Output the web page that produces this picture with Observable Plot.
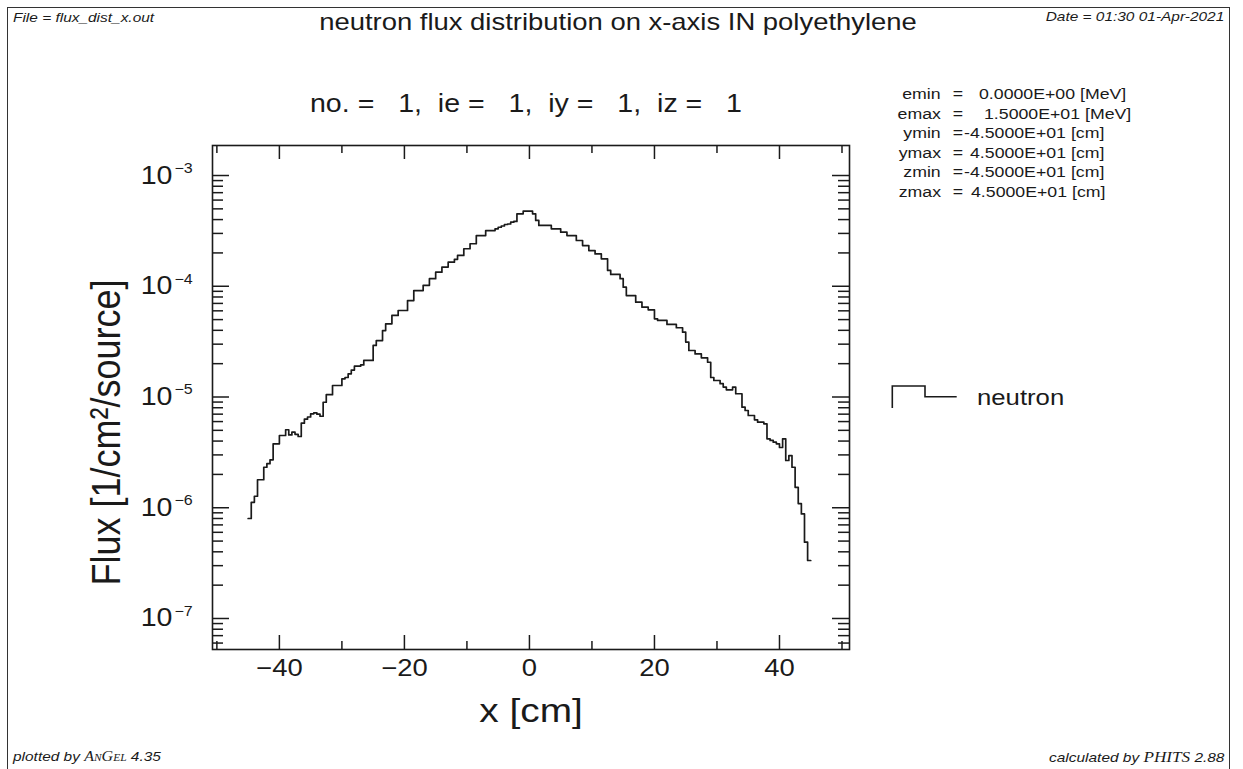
<!DOCTYPE html>
<html><head><meta charset="utf-8">
<script src="https://cdn.jsdelivr.net/npm/d3@7"></script>
<script src="https://cdn.jsdelivr.net/npm/@observablehq/plot@0.6"></script>
<style>
body{margin:0;background:#fff;font-family:"Liberation Sans",Arial,Helvetica,sans-serif;color:#1a1a1a;}
#wrap{position:relative;width:1243px;height:769px;overflow:hidden;background:#fff;}
#wrap svg{position:absolute;left:0;top:0;}
.t{position:absolute;white-space:pre;line-height:1;}
#border{position:absolute;left:7px;top:7px;width:1223px;height:800px;border:1.5px solid #333;box-sizing:border-box;}
</style></head><body><div id="wrap"><div id="border"></div></div>
<script>
// x-mesh bin edges of the tally [cm]
const binEdges = [-45,-44.5,-44,-43.5,-43,-42.5,-42,-41.5,-41,-40.5,-40,-39.5,-39,-38.5,-38,-37.5,-37,-36.5,-36,-35.5,-35,-34.5,-34,-33.5,-33,-32.5,-32,-31.5,-31,-30.5,-30,-29.5,-29,-28.5,-28,-27.5,-27,-26.5,-26,-25.5,-25,-24.5,-24,-23.5,-23,-22.5,-22,-21.5,-21,-20.5,-20,-19.5,-19,-18.5,-18,-17.5,-17,-16.5,-16,-15.5,-15,-14.5,-14,-13.5,-13,-12.5,-12,-11.5,-11,-10.5,-10,-9.5,-9,-8.5,-8,-7.5,-7,-6.5,-6,-5.5,-5,-4.5,-4,-3.5,-3,-2.5,-2,-1.5,-1,-0.5,0,0.5,1,1.5,2,2.5,3,3.5,4,4.5,5,5.5,6,6.5,7,7.5,8,8.5,9,9.5,10,10.5,11,11.5,12,12.5,13,13.5,14,14.5,15,15.5,16,16.5,17,17.5,18,18.5,19,19.5,20,20.5,21,21.5,22,22.5,23,23.5,24,24.5,25,25.5,26,26.5,27,27.5,28,28.5,29,29.5,30,30.5,31,31.5,32,32.5,33,33.5,34,34.5,35,35.5,36,36.5,37,37.5,38,38.5,39,39.5,40,40.5,41,41.5,42,42.5,43,43.5,44,44.5,45];
// neutron flux per bin [1/cm^2/source]
const fluxLeft = [8.0e-7,1.12e-6,1.27e-6,1.79e-6,1.79e-6,2.32e-6,2.5e-6,2.71e-6,3.78e-6,3.78e-6,
  4.49e-6,4.49e-6,5.06e-6,4.55e-6,4.81e-6,4.6e-6,4.4e-6,5.8e-6,6.3e-6,6.6e-6,
  7.05e-6,7.2e-6,7.0e-6,6.7e-6,8.97e-6,1.05e-5,1.05e-5,1.27e-5,1.27e-5,1.27e-5,
  1.46e-5,1.5e-5,1.62e-5,1.75e-5,1.9e-5,1.9e-5,1.95e-5,2.14e-5,2.14e-5,2.14e-5,
  2.92e-5,3.23e-5,3.23e-5,3.98e-5,4.58e-5,4.58e-5,5.45e-5,5.45e-5,6.04e-5,6.04e-5,
  6.04e-5,7.43e-5,7.43e-5,9.15e-5,9.15e-5,9.15e-5,1.02e-4,1.02e-4,1.17e-4,1.17e-4,
  1.34e-4,1.34e-4,1.49e-4,1.49e-4,1.65e-4,1.65e-4,1.75e-4,1.9e-4,1.9e-4,2.18e-4,
  2.18e-4,2.42e-4,2.42e-4,2.87e-4,2.87e-4,2.87e-4,3.18e-4,3.18e-4,3.18e-4,3.3e-4,
  3.41e-4,3.5e-4,3.61e-4,3.65e-4,3.79e-4,3.85e-4,4.51e-4,4.51e-4,4.76e-4,4.76e-4];
const fluxRight = [4.76e-4,4.51e-4,3.93e-4,3.54e-4,3.54e-4,3.54e-4,3.54e-4,3.3e-4,3.3e-4,3.3e-4,
  3.08e-4,3.08e-4,2.87e-4,2.87e-4,2.87e-4,2.59e-4,2.59e-4,2.33e-4,2.33e-4,2.1e-4,
  2.1e-4,1.96e-4,1.96e-4,1.77e-4,1.77e-4,1.39e-4,1.28e-4,1.28e-4,1.28e-4,1.17e-4,
  9.82e-5,8.24e-5,8.24e-5,8.24e-5,7.18e-5,7.18e-5,6.47e-5,6.47e-5,6.12e-5,6.12e-5,
  5.08e-5,4.91e-5,4.91e-5,4.91e-5,4.52e-5,4.52e-5,4.52e-5,4.22e-5,4.22e-5,3.85e-5,
  3.13e-5,2.63e-5,2.63e-5,2.45e-5,2.45e-5,2.26e-5,2.26e-5,2.06e-5,1.5e-5,1.41e-5,
  1.41e-5,1.32e-5,1.23e-5,1.16e-5,1.16e-5,1.23e-5,1.07e-5,1.07e-5,8.09e-6,7.55e-6,
  6.81e-6,6.81e-6,6.22e-6,5.93e-6,5.93e-6,5.73e-6,4.19e-6,4.05e-6,3.91e-6,3.78e-6,
  3.5e-6,4.19e-6,2.67e-6,2.96e-6,2.32e-6,1.53e-6,1.09e-6,8.8e-7,4.89e-7,3.34e-7];
const flux = fluxLeft.concat(fluxRight);

const xMajorTicks = [-40,-20,0,20,40];
const xTickLabels = ["\u221240","\u221220","0","20","40"];
const xMinorTicks = [-50,-30,-10,10,30,50];
const yMajorTicks = [1e-7,1e-6,1e-5,1e-4,1e-3];
const yTickBase = ["10","10","10","10","10"];
const yTickExp = ["\u22127","\u22126","\u22125","\u22124","\u22123"];
const yMinorMult = [2,3,4,5,6,7,8,9];
const yDecades = [1e-8,1e-7,1e-6,1e-5,1e-4,1e-3];

const xDomain = [-50.7, 51.2];
const yDomain = [Math.pow(10,-7.28), Math.pow(10,-2.729)];

const paramLabels = ["emin","emax","ymin","ymax","zmin","zmax"];
const paramValues = ["0.0000E+00 [MeV]","1.5000E+01 [MeV]","-4.5000E+01 [cm]","4.5000E+01 [cm]","-4.5000E+01 [cm]","4.5000E+01 [cm]"];
const paramValueLeft = [979,984,964,970,964,971];

// step path rows built from the edges
const rows = flux.map((v,i)=>({x: binEdges[i], y: v}));
rows.push({x: binEdges[binEdges.length-1], y: flux[flux.length-1]});

const yMinorTicks = [];
for (const d of yDecades) for (const m of yMinorMult) { const v = d*m; if (v > yDomain[0] && v < yDomain[1]) yMinorTicks.push(v); }

const SX = 1.143; // horizontal stretch of the page's lettering
const W = 1243, H = 769, mL = 212, mR = 1243-849, mT = 145, mB = 769-649;
const fw = W - mL - mR, fh = H - mT - mB;
const ink = "#1a1a1a";

const chart = Plot.plot({
  width: W, height: H,
  marginLeft: mL, marginRight: mR, marginTop: mT, marginBottom: mB,
  style: {fontFamily: '"Liberation Sans", Arial, sans-serif', background: "transparent", color: ink},
  x: {type: "linear", domain: xDomain, axis: null},
  y: {type: "log", domain: yDomain, axis: null},
  marks: [
    Plot.tickX(xMajorTicks, {x: d=>d, insetTop: fh-14, stroke: ink, strokeWidth: 1.5}),
    Plot.tickX(xMinorTicks, {x: d=>d, insetTop: fh-8, stroke: ink, strokeWidth: 1.5}),
    Plot.tickX(xMajorTicks, {x: d=>d, insetBottom: fh-14, stroke: ink, strokeWidth: 1.5}),
    Plot.tickX(xMinorTicks, {x: d=>d, insetBottom: fh-8, stroke: ink, strokeWidth: 1.5}),
    Plot.tickY(yMajorTicks, {y: d=>d, insetRight: fw-17, stroke: ink, strokeWidth: 1.5}),
    Plot.tickY(yMinorTicks, {y: d=>d, insetRight: fw-11, stroke: ink, strokeWidth: 1.5}),
    Plot.tickY(yMajorTicks, {y: d=>d, insetLeft: fw-17, stroke: ink, strokeWidth: 1.5}),
    Plot.tickY(yMinorTicks, {y: d=>d, insetLeft: fw-11, stroke: ink, strokeWidth: 1.5}),
    Plot.text(xMajorTicks, {x: d=>d, frameAnchor: "bottom", dy: 26, text: (d,i)=>xTickLabels[i], fontSize: 24, fill: ink}),
    Plot.text(yMajorTicks, {y: d=>d, frameAnchor: "left", dx: -40, textAnchor: "end", text: (d,i)=>yTickBase[i], fontSize: 25, fill: ink}),
    Plot.text(yMajorTicks, {y: d=>d, frameAnchor: "left", dx: -38, dy: -7, textAnchor: "start", text: (d,i)=>yTickExp[i], fontSize: 14, fill: ink}),
    Plot.text(["x [cm]"], {frameAnchor: "bottom", dy: 72, textAnchor: "middle", text: d=>d, fontSize: 34, fill: ink}),
    Plot.text(["Flux [1/cm\u00b2/source]"], {frameAnchor: "left", dx: -106, dy: 35, rotate: -90, textAnchor: "middle", text: d=>d, fontSize: 36, fill: ink}),
    Plot.line(rows, {x: "x", y: "y", curve: "step-after", stroke: ink, strokeWidth: 1.7}),
    Plot.frame({stroke: ink, strokeWidth: 1.6})
  ]
});
// widen the lettering the same way as the page it copies
d3.select(chart).selectAll("text").each(function() {
  const t = this.getAttribute("transform");
  if (!t) return;
  if (t.includes("rotate(")) this.setAttribute("transform", t.replace("rotate(", `scale(${SX},1) rotate(`));
  else this.setAttribute("transform", t + ` scale(${SX},1)`);
});
const wrap = document.getElementById("wrap");
wrap.appendChild(chart);

function place(txt, x, y, anchor, style) {
  const d = document.createElement("div");
  d.className = "t";
  d.innerHTML = txt;
  Object.assign(d.style, style || {});
  d.style.top = y + "px";
  if (anchor === "middle") { d.style.left = x + "px"; d.style.transformOrigin = "50% 50%"; d.style.transform = `translate(-50%,-50%) scaleX(${SX})`; }
  else if (anchor === "end") { d.style.right = (W - x) + "px"; d.style.transformOrigin = "100% 50%"; d.style.transform = `translateY(-50%) scaleX(${SX})`; }
  else { d.style.left = x + "px"; d.style.transformOrigin = "0 50%"; d.style.transform = `translateY(-50%) scaleX(${SX})`; }
  wrap.appendChild(d);
  return d;
}
place("File = flux_dist_x.out", 13, 18, "start", {fontSize: "13.5px", fontStyle: "italic"});
place("Date = 01:30 01-Apr-2021", 1224, 17, "end", {fontSize: "13.5px", fontStyle: "italic"});
place("neutron flux distribution on x-axis IN polyethylene", 618, 22, "middle", {fontSize: "24px"});
place("no. =   1,  ie =   1,  iy =   1,  iz =   1", 526, 103, "middle", {fontSize: "25px"});
paramLabels.forEach((lab, i) => {
  const y = 94 + i*19.5;
  place(lab, 941, y, "end", {fontSize: "15.5px"});
  place("=", 958, y, "middle", {fontSize: "15.5px"});
  place(paramValues[i], paramValueLeft[i], y, "start", {fontSize: "15.5px"});
});
const leg = document.createElementNS("http://www.w3.org/2000/svg", "svg");
leg.setAttribute("width", 80); leg.setAttribute("height", 40);
leg.style.position = "absolute"; leg.style.left = "885px"; leg.style.top = "378px";
leg.innerHTML = '<path d="M7.3,30 L7.3,8 L40,8 L40,18.7 L71.7,18.7" fill="none" stroke="#1a1a1a" stroke-width="1.6"/>';
wrap.appendChild(leg);
place("neutron", 977, 398, "start", {fontSize: "22.5px"});
place('plotted by <span style="font-family:\'Liberation Serif\',serif;font-variant:small-caps;font-size:14px">AnGel</span> 4.35', 13, 757, "start", {fontSize: "13.5px", fontStyle: "italic"});
place('calculated by <span style="font-family:\'Liberation Serif\',serif;font-variant:small-caps;font-size:15px">PHITS</span> 2.88', 1224, 757, "end", {fontSize: "13.5px", fontStyle: "italic"});
</script></body></html>
